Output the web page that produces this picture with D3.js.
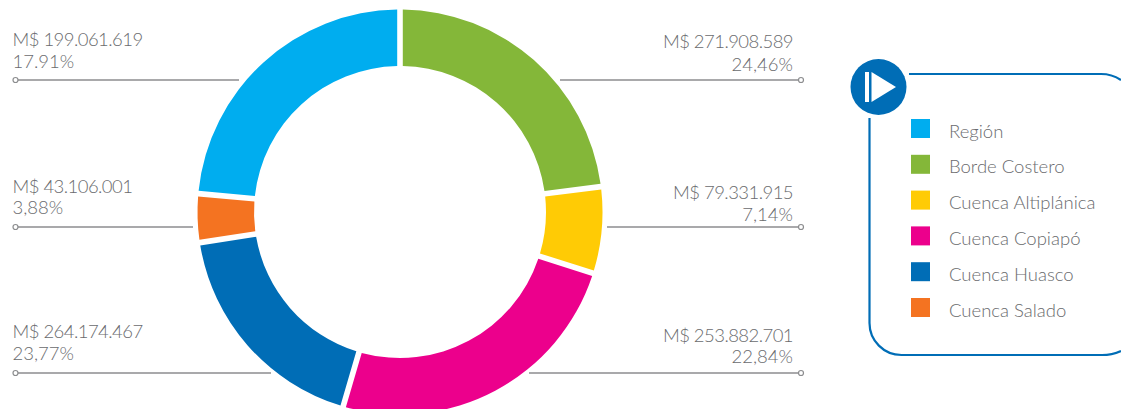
<!DOCTYPE html>
<html><head><meta charset="utf-8">
<script src="https://cdn.jsdelivr.net/npm/d3@7"></script>
<style>html,body{margin:0;padding:0;background:#fff;overflow:hidden}svg{display:block}text{font-family:Lato,sans-serif;font-weight:300;fill:#6a6b6e}</style>
</head><body><svg id="c" width="1121" height="409"></svg>
<script>
const categories=["Borde Costero","Cuenca Altiplánica","Cuenca Copiapó","Cuenca Huasco","Cuenca Salado","Región"];
// Sweep of each ring segment as drawn in the picture (degrees)
const drawnSweep=[82.8,24.8,88.7,65,13.9,84.8];
const colors=["#84b739","#ffcb05","#ec008c","#006db6","#f47321","#00adef"];
const legendOrder=["Región","Borde Costero","Cuenca Altiplánica","Cuenca Copiapó","Cuenca Huasco","Cuenca Salado"];
const amounts=["M$ 271.908.589","M$ 79.331.915","M$ 253.882.701","M$ 264.174.467","M$ 43.106.001","M$ 199.061.619"];
const percents=["24,46%","7,14%","22,84%","23,77%","3,88%","17.91%"];

const svg=d3.select("#c");
const color=d3.scaleOrdinal(categories,colors);
const cx=400,cy=212,R=202.5,r=146;
const pie=d3.pie().sort(null).value((d,i)=>drawnSweep[i]);
const arc=d3.arc().innerRadius(r).outerRadius(R).padAngle(5.6/175).padRadius(175);
svg.append("g").attr("transform",`translate(${cx},${cy})`)
 .selectAll("path").data(pie(categories)).join("path")
 .attr("d",arc).attr("fill",d=>color(d.data));

// leader lines and their labels
const sideOf=["right","right","right","left","left","left"];
const lineY=[80,227,373,373,227,80];
const innerEnd=[560,607,529,271,193,239];
const amountBase=[48,199,341.5,338,193,46];
const percentBase=[70.5,221,363,360,214,68];
const grey="#8c8d8f";
const leaders=svg.append("g");
categories.forEach((c,i)=>{
  const y=lineY[i],right=sideOf[i]==="right";
  const outer=right?801:15.5;
  leaders.append("line").attr("x1",innerEnd[i]).attr("x2",outer).attr("y1",y).attr("y2",y)
    .attr("stroke",grey).attr("stroke-width",1.4);
  leaders.append("circle").attr("cx",outer).attr("cy",y).attr("r",2.5)
    .attr("fill","#fff").attr("stroke",grey).attr("stroke-width",1.2);
  const tx=right?793:12.5,anchor=right?"end":"start";
  leaders.append("text").attr("x",tx).attr("y",amountBase[i]).attr("text-anchor",anchor)
    .attr("font-size",18.5).attr("letter-spacing",-0.55).text(amounts[i]);
  leaders.append("text").attr("x",tx).attr("y",percentBase[i]).attr("text-anchor",anchor)
    .attr("font-size",18.5).text(percents[i]);
});

// legend frame
const blue="#006db6";
const p=d3.path();
p.moveTo(909,74);p.lineTo(1101,74);p.quadraticCurveTo(1112,74,1121,80);
p.moveTo(869.5,118);p.lineTo(869.5,322);p.arcTo(869.5,355,902,355,32);p.lineTo(1102,355);p.quadraticCurveTo(1112,355,1121,351);
svg.append("path").attr("d",p.toString()).attr("fill","none").attr("stroke",blue).attr("stroke-width",2.2);
svg.append("circle").attr("cx",878.5).attr("cy",87).attr("r",28).attr("fill",blue);
svg.append("rect").attr("x",865).attr("y",72).attr("width",4).attr("height",30).attr("fill","#fff");
svg.append("path").attr("d",d3.line()([[871.5,72],[896,87],[871.5,102]])+"Z").attr("fill","#fff");

const ly=d3.scalePoint().domain(legendOrder).range([128.5,307.5]);
const lg=svg.append("g").selectAll("g").data(legendOrder).join("g");
lg.append("rect").attr("x",911).attr("y",d=>ly(d)-9.5).attr("width",19).attr("height",19).attr("fill",d=>color(d));
lg.append("text").attr("x",949).attr("y",d=>ly(d)+9).attr("font-size",18.5).text(d=>d);
</script></body></html>
